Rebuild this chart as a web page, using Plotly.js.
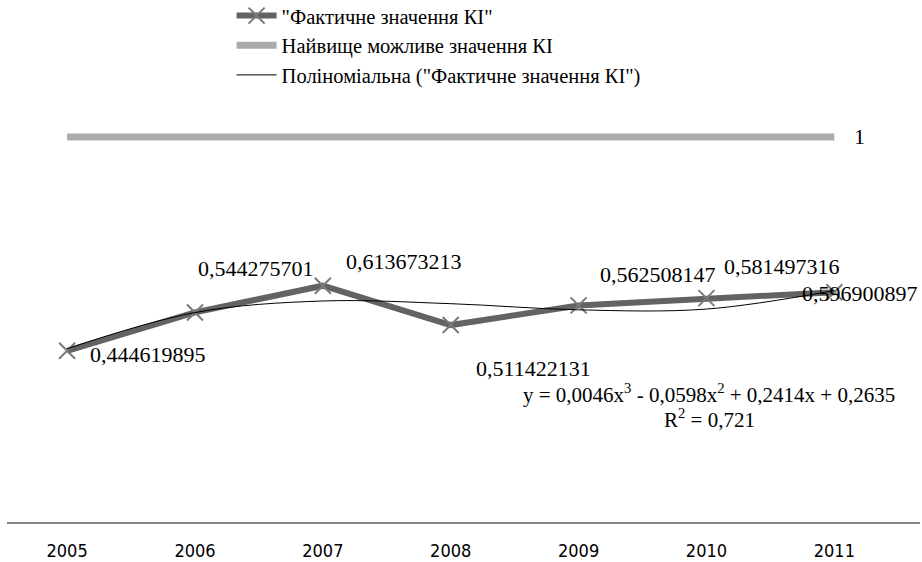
<!DOCTYPE html>
<html>
<head>
<meta charset="utf-8">
<script src="https://cdn.plot.ly/plotly-3.0.1.min.js"></script>
<style>html,body{margin:0;padding:0;background:#fff;}#chart{width:922px;height:562px;}
.xtick text{font-stretch:condensed;}
</style>
</head>
<body>
<div id="chart"></div>
<script>
const years = ['2005','2006','2007','2008','2009','2010','2011'];
const actual = [0.444619895, 0.544275701, 0.613673213, 0.511422131, 0.562508147, 0.581497316, 0.596900897];
const maxPossible = [1, 1, 1, 1, 1, 1, 1];
const trendValues = [0.450, 0.544, 0.574, 0.567, 0.551, 0.553, 0.601];
const actualLabels = ['0,444619895','0,544275701','0,613673213','0,511422131','0,562508147','0,581497316','0,596900897'];
const maxLabel = '1';
const equationText = 'y = 0,0046x<sup>3</sup> - 0,0598x<sup>2</sup> + 0,2414x + 0,2635';
const r2Text = 'R<sup>2</sup> = 0,721';

const serif = 'Liberation Serif, serif';
const narrow = 'DejaVu Sans Condensed, Liberation Sans Narrow, sans-serif';

// label placement offsets (pixels) for each point
const labelShift = [[21,-4],[1,44],[21,24],[23,-43],[19,31],[16,32],[-34,-1]];

const traces = [
  {
    x: years, y: actual, type: 'scatter', mode: 'lines+markers',
    name: '"Фактичне значення КІ"',
    line: {color: '#636363', width: 6},
    marker: {symbol: 'x-thin-open', size: 16, line: {color: '#7a7a7a', width: 2}, color: '#7a7a7a'}
  },
  {
    x: years, y: maxPossible, type: 'scatter', mode: 'lines',
    name: 'Найвище можливе значення КІ',
    line: {color: '#ababab', width: 7}
  },
  {
    x: years, y: trendValues, type: 'scatter', mode: 'lines',
    name: 'Поліноміальна ("Фактичне значення КІ")',
    line: {color: '#000000', width: 1, shape: 'spline', smoothing: 1}
  }
];

const annotations = actual.map((v, i) => ({
  x: i, y: v, xref: 'x', yref: 'y', text: actualLabels[i], showarrow: false,
  xanchor: 'left', yanchor: 'middle', xshift: labelShift[i][0], yshift: labelShift[i][1],
  font: {family: serif, size: 22, color: '#000'}
}));
annotations.push({
  x: 6, y: maxPossible[6], xref: 'x', yref: 'y', text: maxLabel, showarrow: false,
  xanchor: 'left', yanchor: 'middle', xshift: 18, yshift: 0,
  font: {family: serif, size: 22, color: '#000'}
});
annotations.push({
  x: 0.769, y: 0.305, xref: 'paper', yref: 'paper', text: equationText, showarrow: false,
  xanchor: 'center', yanchor: 'middle', font: {family: serif, size: 21, color: '#000'}
});
annotations.push({
  x: 0.769, y: 0.246, xref: 'paper', yref: 'paper', text: r2Text, showarrow: false,
  xanchor: 'center', yanchor: 'middle', font: {family: serif, size: 21, color: '#000'}
});

const layout = {
  width: 922, height: 562,
  margin: {l: 7, r: 2, t: 100, b: 40, autoexpand: false},
  paper_bgcolor: '#ffffff', plot_bgcolor: '#ffffff',
  showlegend: true,
  legend: {
    x: 0.246, y: 1.247, xanchor: 'left', yanchor: 'top',
    font: {family: serif, size: 20.5, color: '#000'},
    bgcolor: 'rgba(0,0,0,0)', tracegroupgap: 0, itemwidth: 40,
    traceorder: 'normal'
  },
  xaxis: {
    type: 'category', range: [-0.47, 6.67],
    showline: true, linecolor: '#868686', linewidth: 1.5,
    showgrid: false, zeroline: false,
    ticks: 'outside', ticklen: 0, ticklabelstandoff: 12,
    tickfont: {family: narrow, size: 18, color: '#000'}
  },
  yaxis: {
    range: [0, 1.096], visible: false, showgrid: false, zeroline: false
  },
  annotations: annotations
};

Plotly.newPlot('chart', traces, layout, {displayModeBar: false, staticPlot: true});
</script>
</body>
</html>
